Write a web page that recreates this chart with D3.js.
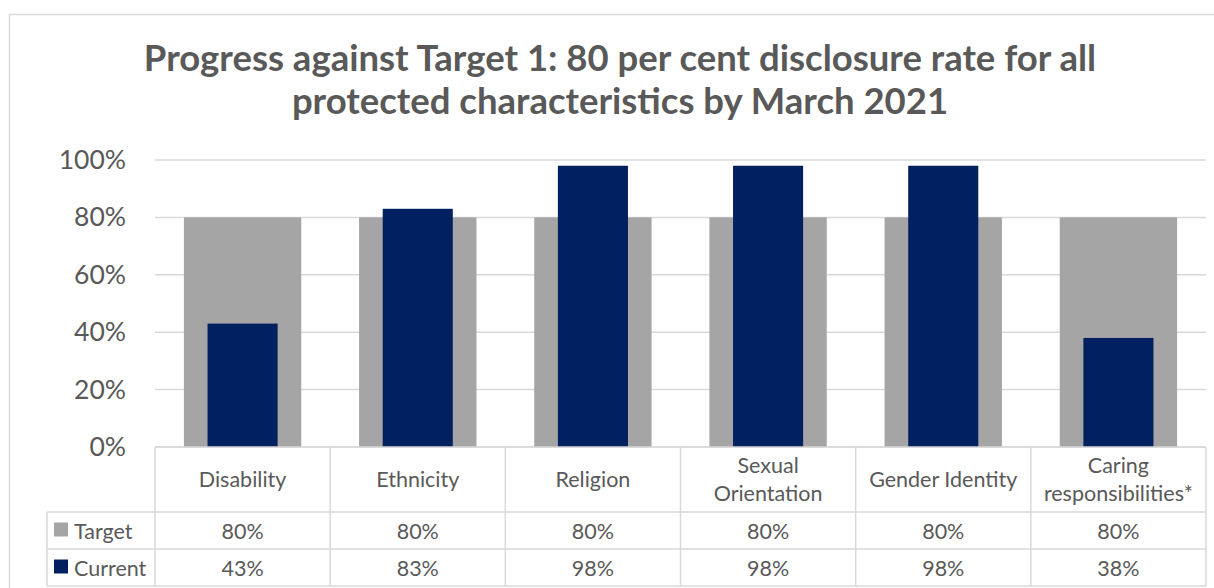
<!DOCTYPE html>
<html>
<head>
<meta charset="utf-8">
<script src="https://cdn.jsdelivr.net/npm/d3@7"></script>
<style>
  body { margin: 0; background: #fff; }
  text { font-family: Lato, "Open Sans", sans-serif; fill: #595959; }
</style>
</head>
<body>
<div id="grafica"></div>
<script>
// Datos
const categorias = ["Disability", "Ethnicity", "Religion", "Sexual Orientation", "Gender Identity", "Caring responsibilities*"]
const etiquetasCat = [["Disability"], ["Ethnicity"], ["Religion"], ["Sexual", "Orientation"], ["Gender Identity"], ["Caring", "responsibilities*"]]
const target = [0.80, 0.80, 0.80, 0.80, 0.80, 0.80]
const current = [0.43, 0.83, 0.98, 0.98, 0.98, 0.38]
const series = ["Target", "Current"]
const ticks = [0, 0.2, 0.4, 0.6, 0.8, 1.0]

const anchoTotal = 1214
const altoTotal = 588
const colores = { Target: "#a5a5a5", Current: "#002060" }
const lineaGris = "#d9d9d9"

const margins = { top: 160, left: 155, right: 8, bottom: 141 }
const ancho = anchoTotal - margins.left - margins.right
const alto = altoTotal - margins.top - margins.bottom

const svg = d3.select("#grafica").append("svg")
    .attr("width", anchoTotal)
    .attr("height", altoTotal)

// Borde exterior
svg.append("rect")
    .attr("x", 9.5).attr("y", 14.5)
    .attr("width", anchoTotal).attr("height", altoTotal)
    .attr("fill", "none").attr("stroke", lineaGris).attr("stroke-width", 1.5)

// Titulo
const titulo = svg.append("text")
    .attr("x", 620).attr("y", 71)
    .attr("text-anchor", "middle")
    .style("font-size", "36.5px").style("font-weight", "bold")
titulo.append("tspan").attr("x", 620).text("Progress against Target 1: 80 per cent disclosure rate for all")
titulo.append("tspan").attr("x", 620).attr("dy", 43).text("protected characteristics by March 2021")

const g = svg.append("g").attr("transform", `translate(${margins.left},${margins.top})`)

// Escaladores
const y = d3.scaleLinear().domain([0, 1]).range([alto, 0])
const x = d3.scaleBand().domain(categorias).range([0, ancho])

// Grid
g.append("g").selectAll("line").data(ticks).join("line")
    .attr("x1", 0).attr("x2", ancho)
    .attr("y1", d => y(d)).attr("y2", d => y(d))
    .attr("stroke", lineaGris).attr("stroke-width", 1.5)

// Eje Y
const yAxis = d3.axisLeft(y).tickValues(ticks).tickFormat(d3.format(".0%")).tickSize(0).tickPadding(29)
const yAxisGroup = g.append("g").call(yAxis)
yAxisGroup.select(".domain").remove()
yAxisGroup.selectAll("text").style("font-size", "26.5px").attr("fill", "#595959").style("font-family", "Lato, 'Open Sans', sans-serif")

// Barras
const datos = categorias.map((c, i) => ({ cat: c, Target: target[i], Current: current[i] }))
const anchoTarget = x.bandwidth() * 0.67
const anchoCurrent = x.bandwidth() * 0.40

g.append("g").selectAll("rect").data(datos).join("rect")
    .attr("x", d => x(d.cat) + (x.bandwidth() - anchoTarget) / 2)
    .attr("y", d => y(d.Target))
    .attr("width", anchoTarget)
    .attr("height", d => y(0) - y(d.Target))
    .attr("fill", colores.Target)

g.append("g").selectAll("rect").data(datos).join("rect")
    .attr("x", d => x(d.cat) + (x.bandwidth() - anchoCurrent) / 2)
    .attr("y", d => y(d.Current))
    .attr("width", anchoCurrent)
    .attr("height", d => y(0) - y(d.Current))
    .attr("fill", colores.Current)

// Tabla de datos
const tabla = g.append("g").attr("transform", `translate(0,${alto})`)
const hHeader = 65, hFila = 37
const izqLeyenda = 47 - margins.left
const lineas = []
// horizontales
lineas.push([0, 0, ancho, 0])
lineas.push([izqLeyenda, hHeader, ancho, hHeader])
lineas.push([izqLeyenda, hHeader + hFila, ancho, hHeader + hFila])
lineas.push([izqLeyenda, hHeader + 2 * hFila, ancho, hHeader + 2 * hFila])
// verticales
lineas.push([izqLeyenda, hHeader, izqLeyenda, hHeader + 2 * hFila])
categorias.forEach(c => lineas.push([x(c), 0, x(c), hHeader + 2 * hFila]))
lineas.push([ancho, 0, ancho, hHeader + 2 * hFila])

tabla.selectAll("line").data(lineas).join("line")
    .attr("x1", d => d[0]).attr("y1", d => d[1])
    .attr("x2", d => d[2]).attr("y2", d => d[3])
    .attr("stroke", lineaGris).attr("stroke-width", 1.5)

// encabezados
const cab = tabla.append("g").selectAll("text").data(categorias).join("text")
    .attr("text-anchor", "middle")
    .style("font-size", "21.5px")
cab.each(function (c, i) {
    const lns = etiquetasCat[i]
    const t = d3.select(this)
    const cx = x(c) + x.bandwidth() / 2
    const y0 = hHeader / 2 + 7 - (lns.length - 1) * 14
    lns.forEach((l, j) => t.append("tspan").attr("x", cx).attr("y", y0 + j * 28).text(l))
})

// filas
const fmt = d3.format(".0%")
series.forEach((s, k) => {
    const yc = hHeader + k * hFila + hFila / 2 + 8
    const fila = tabla.append("g")
    fila.append("rect")
        .attr("x", izqLeyenda + 7).attr("y", yc - 16)
        .attr("width", 14).attr("height", 14)
        .attr("fill", colores[s])
    fila.append("text")
        .attr("x", izqLeyenda + 27).attr("y", yc)
        .style("font-size", "21.5px")
        .text(s)
    fila.selectAll("text.val").data(datos).join("text")
        .attr("class", "val")
        .attr("x", d => x(d.cat) + x.bandwidth() / 2)
        .attr("y", yc)
        .attr("text-anchor", "middle")
        .style("font-size", "21.5px")
        .text(d => fmt(d[s]))
})
</script>
</body>
</html>
